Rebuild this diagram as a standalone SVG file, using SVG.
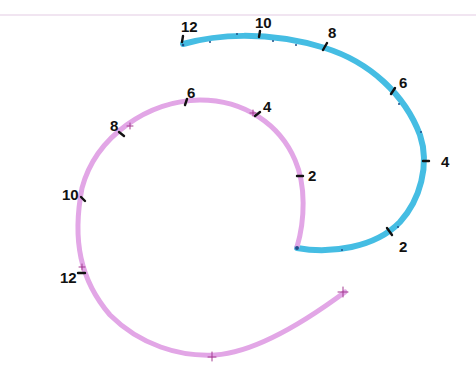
<svg xmlns="http://www.w3.org/2000/svg" width="476" height="372" viewBox="0 0 476 372">
<style>
.blue{fill:none;stroke:#45bde3;stroke-width:6;stroke-linecap:round;stroke-linejoin:round}
.pink{fill:none;stroke:#e2a6e6;stroke-width:5;stroke-linecap:round;stroke-linejoin:round}
.tick{fill:none;stroke:#111;stroke-width:2.4;stroke-linecap:round}
.cross{fill:none;stroke:#a33a8f;stroke-width:1;stroke-linecap:round}
.lbl{font-family:"Liberation Sans",Arial,sans-serif;font-weight:bold;font-size:15px;fill:#111}
.dot{fill:#1d4f8a}
</style>
<rect x="0" y="0" width="476" height="372" fill="#ffffff"/>
<line x1="0" y1="15" x2="476" y2="15" stroke="#ecdcec" stroke-width="1.5"/>
<g id="connectors">
<path id="blue-curve" class="blue" d="M183,44 C215,35 265,30 325,48 C370,62 405,95 420,135 C430,165 420,200 400,222 C375,248 330,254 297,248"/>
<path id="pink-curve" class="pink" d="M297,247 C305,220 306,185 295,160 C280,125 245,100 200,100 C148,101 96,136 82,188 C72,240 80,280 110,315 C140,345 180,357 215,355 C260,352 318,312 345,292"/>
</g>
<g id="blue-marks">
<circle class="dot" cx="183" cy="45" r="1.3"/>
<circle class="dot" cx="210" cy="42" r="1"/>
<circle class="dot" cx="237" cy="34" r="1"/>
<circle class="dot" cx="273" cy="41" r="1"/>
<circle class="dot" cx="296" cy="45" r="1"/>
<circle class="dot" cx="399" cy="104" r="1"/>
<circle class="dot" cx="421" cy="132" r="1"/>
<circle class="dot" cx="398" cy="227" r="1"/>
<circle class="dot" cx="342" cy="250" r="1"/>
<circle class="dot" cx="297" cy="248" r="2"/>
<path class="tick" d="M183,36 L182,42"/>
<path class="tick" d="M260,31 L259,37"/>
<path class="tick" d="M327,43 L323,50"/>
<path class="tick" d="M395,88 L391,94"/>
<path class="tick" d="M423,161 L429,161"/>
<path class="tick" d="M387,228 L392,235"/>
<text class="lbl" x="181" y="32">12</text>
<text class="lbl" x="255" y="28">10</text>
<text class="lbl" x="328" y="38">8</text>
<text class="lbl" x="399" y="88">6</text>
<text class="lbl" x="441" y="167">4</text>
<text class="lbl" x="399" y="252">2</text>
</g>
<g id="pink-marks">
<path class="tick" d="M297,176 L303,176"/>
<path class="tick" d="M255,116 L260,112"/>
<path class="tick" d="M187,99 L185,105"/>
<path class="tick" d="M119,132 L124,136"/>
<path class="tick" d="M81,197 L85,201"/>
<path class="tick" d="M78,273 L85,273"/>
<path class="cross" d="M127,126 L133,126 M130,123 L130,129"/>
<path class="cross" d="M250,113 L256,113 M253,110 L253,116"/>
<path class="cross" d="M79,267 L85,267 M82,264 L82,270"/>
<path class="cross" d="M208,357 L216,357 M212,352 L212,361"/>
<path class="cross" d="M338,292 L348,292 M343,287 L343,297"/>
<text class="lbl" x="308" y="181">2</text>
<text class="lbl" x="263" y="112">4</text>
<text class="lbl" x="187" y="98">6</text>
<text class="lbl" x="110" y="131">8</text>
<text class="lbl" x="62" y="200">10</text>
<text class="lbl" x="60" y="283">12</text>
</g>
</svg>
